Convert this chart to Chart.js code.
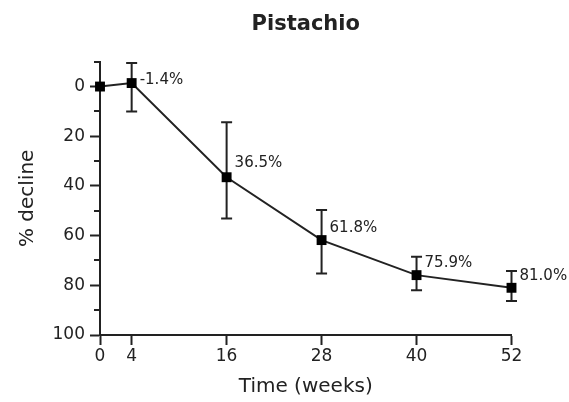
<!DOCTYPE html>
<html><head><meta charset="utf-8">
<script src="https://cdn.jsdelivr.net/npm/chart.js@4.4.1/dist/chart.umd.min.js"></script>
<style>html,body{margin:0;padding:0;background:#fff;} canvas{display:block;}</style>
</head><body>
<canvas id="c" width="569" height="402"></canvas>
<script>
const chartTitle = 'Pistachio';
const weeks = [0, 4, 16, 28, 40, 52];
const decline = [0, -1.4, 36.5, 61.8, 75.9, 81.0];
const errLow = [null, -9.5, 14.4, 49.7, 68.5, 74.2];
const errHigh = [null, 10.0, 53.1, 75.2, 82.0, 86.3];
const valueLabels = ['', '-1.4%', '36.5%', '61.8%', '75.9%', '81.0%'];
const xTicks = [0, 4, 16, 28, 40, 52];
const yTicks = [0, 20, 40, 60, 80, 100];
const yMinor = [-10, 10, 30, 50, 70, 90];

const INK = '#222';
const FONT = 'DejaVu Sans';
const labelDy = [0, -3, -14, -12, -12, -12];

const extras = {
  id: 'extras',
  beforeDatasetsDraw(chart) {
    const ctx = chart.ctx, xs = chart.scales.x, ys = chart.scales.y;
    ctx.save();
    ctx.strokeStyle = INK; ctx.lineWidth = 2;
    for (let i = 0; i < weeks.length; i++) {
      if (errLow[i] === null) continue;
      const x = xs.getPixelForValue(weeks[i]);
      const y1 = ys.getPixelForValue(errLow[i]);
      const y2 = ys.getPixelForValue(errHigh[i]);
      ctx.beginPath();
      ctx.moveTo(x, y1); ctx.lineTo(x, y2);
      ctx.moveTo(x - 5.5, y1); ctx.lineTo(x + 5.5, y1);
      ctx.moveTo(x - 5.5, y2); ctx.lineTo(x + 5.5, y2);
      ctx.stroke();
    }
    ctx.restore();
  },
  afterDraw(chart) {
    const ctx = chart.ctx, xs = chart.scales.x, ys = chart.scales.y;
    ctx.save();
    ctx.strokeStyle = INK; ctx.lineWidth = 2;
    const left = chart.chartArea.left;
    for (const v of yMinor) {
      const y = Math.round(ys.getPixelForValue(v));
      ctx.beginPath(); ctx.moveTo(left - 6, y); ctx.lineTo(left, y); ctx.stroke();
    }
    ctx.fillStyle = INK;
    ctx.font = '15px "' + FONT + '"';
    ctx.textAlign = 'left'; ctx.textBaseline = 'middle';
    for (let i = 0; i < weeks.length; i++) {
      if (!valueLabels[i]) continue;
      const x = xs.getPixelForValue(weeks[i]);
      const y = ys.getPixelForValue(decline[i]);
      ctx.fillText(valueLabels[i], x + 8, y + labelDy[i]);
    }
    ctx.restore();
  }
};

new Chart(document.getElementById('c'), {
  type: 'scatter',
  data: {
    datasets: [{
      data: weeks.map((w, i) => ({x: w, y: decline[i]})),
      showLine: true,
      borderColor: INK,
      borderWidth: 2,
      backgroundColor: '#000',
      pointStyle: 'rect',
      pointRadius: 7,
      pointBorderWidth: 0,
      clip: false
    }]
  },
  options: {
    responsive: false,
    animation: false,
    devicePixelRatio: 1,
    layout: {padding: {left: 0, right: 57.5, top: 0, bottom: 0}},
    plugins: {
      legend: {display: false},
      tooltip: {enabled: false},
      title: {
        display: true, text: chartTitle, color: INK, fullSize: false,
        font: {family: FONT, size: 21, weight: 'bold'},
        padding: {top: 12, bottom: 24.5}
      }
    },
    scales: {
      x: {
        type: 'linear', min: 0, max: 52,
        afterBuildTicks: s => { s.ticks = xTicks.map(v => ({value: v})); },
        afterFit: s => { s.height = 67; },
        grid: {drawOnChartArea: false, drawTicks: true, tickLength: 10, tickColor: INK, tickWidth: 2},
        border: {display: true, color: INK, width: 2},
        ticks: {color: INK, font: {family: FONT, size: 17}, padding: 1, maxRotation: 0, autoSkip: false},
        title: {display: true, text: 'Time (weeks)', color: INK, font: {family: FONT, size: 20}, padding: {top: 0, bottom: 3}}
      },
      y: {
        type: 'linear', min: -10, max: 100, reverse: true,
        afterBuildTicks: s => { s.ticks = yTicks.map(v => ({value: v})); },
        afterFit: s => { s.width = 100; },
        grid: {drawOnChartArea: false, drawTicks: true, tickLength: 10, tickColor: INK, tickWidth: 2},
        border: {display: true, color: INK, width: 2},
        ticks: {color: INK, font: {family: FONT, size: 17}, padding: 5, autoSkip: false},
        title: {display: true, text: '% decline', color: INK, font: {family: FONT, size: 20}, padding: {top: 16, bottom: 0}}
      }
    }
  },
  plugins: [extras]
});
</script>
</body></html>
